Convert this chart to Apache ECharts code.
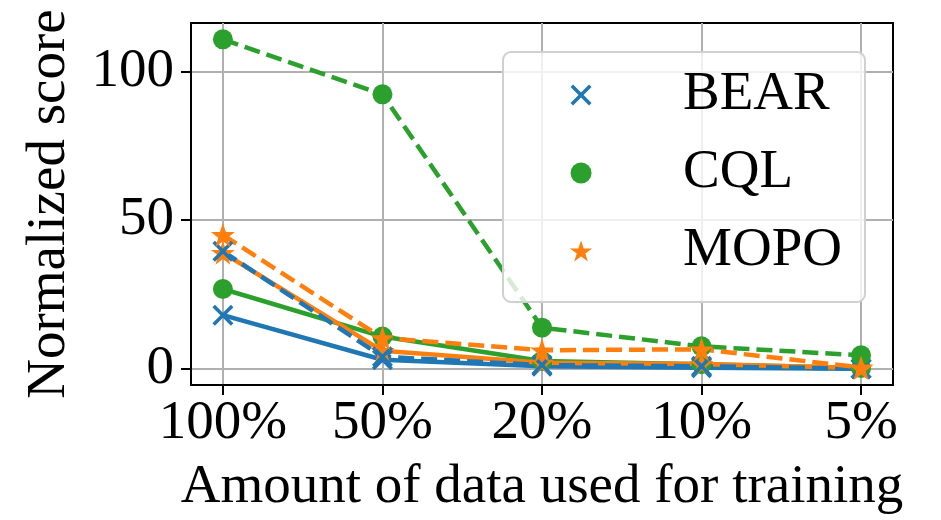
<!DOCTYPE html>
<html>
<head>
<meta charset="utf-8">
<script src="https://cdn.jsdelivr.net/npm/echarts@6/dist/echarts.min.js"></script>
<style>
  html, body { margin: 0; padding: 0; background: #fff; }
  #chart { width: 941px; height: 520px; }
</style>
</head>
<body>
<div id="chart"></div>
<script>
// 数据
const xLabels = ['100%', '50%', '20%', '10%', '5%']
const yTicks = [0, 50, 100]

const bearSolid = [18, 3, 0.8, 0.3, 0]
const bearDashed = [39.5, 4, 1.2, 0.8, 0]
const cqlSolid = [26.8, 10.8, 2.6, 1.5, 0.2]
const cqlDashed = [110.8, 92.3, 13.8, 7.5, 4.5]
const mopoSolid = [39, 6, 2, 1.6, 0.2]
const mopoDashed = [45, 10.3, 6.2, 6.5, 0.4]

const BLUE = '#1f77b4'
const ORANGE = '#ff7f0e'
const GREEN = '#2ca02c'
const FONT = "'Liberation Serif', 'DejaVu Serif', serif"

const X_PATH = 'path://M12,0L50,38L88,0L100,12L62,50L100,88L88,100L50,62L12,100L0,88L38,50L0,12Z'
const STAR_PATH = 'path://M50,0L61.8,34.5L97.6,34.5L68.6,55.9L79.4,90.5L50,69.1L20.6,90.5L31.4,55.9L2.4,34.5L38.2,34.5Z'

const toPoints = vals => vals.map((v, i) => [i, v])

function makeSeries(name, vals, color, symbol, size, dashed) {
  return {
    name,
    type: 'line',
    data: toPoints(vals),
    symbol,
    symbolSize: size,
    showAllSymbol: true,
    itemStyle: { color, borderWidth: 0 },
    lineStyle: { color, width: 4.5, type: dashed ? [16, 7] : 'solid' },
    emphasis: { disabled: true }
  }
}

const chart = echarts.init(document.getElementById('chart'))

const option = {
  animation: false,
  backgroundColor: '#fff',
  textStyle: { fontFamily: FONT },
  grid: {
    left: 191,
    right: 48,
    top: 23,
    bottom: 133,
    show: true,
    borderColor: '#000',
    borderWidth: 2,
    backgroundColor: 'transparent'
  },
  legend: {
    left: 503,
    top: 52,
    orient: 'vertical',
    padding: [13, 23, 21, 67],
    itemWidth: 108,
    itemHeight: 21,
    itemGap: 18,
    backgroundColor: 'rgba(255,255,255,0.8)',
    borderColor: '#d0d0d0',
    borderWidth: 2,
    borderRadius: 8,
    selectedMode: false,
    textStyle: {
      fontFamily: FONT,
      fontSize: 55,
      color: '#000',
      lineHeight: 60,
      padding: [0, 0, 0, 43]
    },
    data: [
      { name: 'BEAR', icon: X_PATH, itemStyle: { color: BLUE } },
      { name: 'CQL', icon: 'circle', itemStyle: { color: GREEN } },
      { name: 'MOPO', icon: STAR_PATH, itemStyle: { color: ORANGE } }
    ]
  },
  xAxis: {
    type: 'value',
    min: -0.2,
    max: 4.2,
    name: 'Amount of data used for training',
    nameLocation: 'middle',
    nameGap: 75,
    nameTextStyle: { fontFamily: FONT, fontSize: 55, color: '#000' },
    axisLine: { show: true, onZero: false, lineStyle: { color: '#000', width: 2 } },
    axisTick: {
      show: true,
      length: 10,
      customValues: [0, 1, 2, 3, 4],
      lineStyle: { color: '#000', width: 2 }
    },
    axisLabel: {
      customValues: [0, 1, 2, 3, 4],
      margin: 11,
      fontFamily: FONT,
      fontSize: 55,
      color: '#000',
      formatter: v => xLabels[Math.round(v)]
    },
    splitLine: { show: true, lineStyle: { color: '#b0b0b0', width: 2 } }
  },
  yAxis: {
    type: 'value',
    min: -5.5,
    max: 116.3,
    name: 'Normalized score',
    nameLocation: 'middle',
    nameGap: 114,
    nameTextStyle: { fontFamily: FONT, fontSize: 55, color: '#000' },
    axisLine: { show: true, onZero: false, lineStyle: { color: '#000', width: 2 } },
    axisTick: {
      show: true,
      length: 10,
      customValues: yTicks,
      lineStyle: { color: '#000', width: 2 }
    },
    axisLabel: {
      customValues: yTicks,
      margin: 17,
      fontFamily: FONT,
      fontSize: 55,
      color: '#000'
    },
    splitLine: { show: true, lineStyle: { color: '#b0b0b0', width: 2 } }
  },
  series: [
    makeSeries('BEAR', bearSolid, BLUE, X_PATH, 21, false),
    makeSeries('CQL', cqlSolid, GREEN, 'circle', 20, false),
    makeSeries('MOPO', mopoSolid, ORANGE, STAR_PATH, 24, false),
    makeSeries('BEAR', bearDashed, BLUE, X_PATH, 21, true),
    makeSeries('CQL', cqlDashed, GREEN, 'circle', 20, true),
    makeSeries('MOPO', mopoDashed, ORANGE, STAR_PATH, 24, true)
  ]
}

chart.setOption(option)
</script>
</body>
</html>
